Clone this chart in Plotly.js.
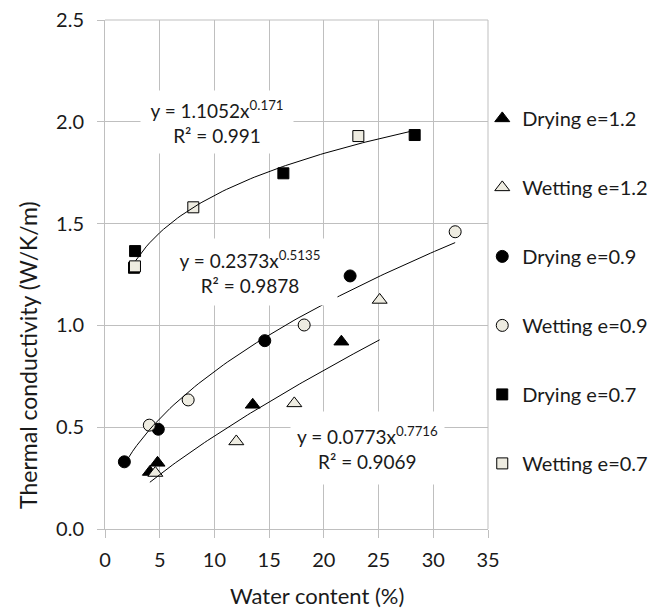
<!DOCTYPE html>
<html>
<head>
<meta charset="utf-8">
<script src="https://cdn.plot.ly/plotly-3.0.1.min.js"></script>
<style>html,body{margin:0;padding:0;background:#fff;}#chart{width:670px;height:610px;}</style>
</head>
<body>
<div id="chart"></div>
<script>
// ---- data ----
const seriesNames = ["Drying e=1.2", "Wetting e=1.2", "Drying e=0.9", "Wetting e=0.9", "Drying e=0.7", "Wetting e=0.7"];

const dry12X = [4.1, 4.8, 13.5, 21.6];
const dry12Y = [0.28, 0.325, 0.61, 0.92];
const wet12X = [4.6, 12.0, 17.3, 25.1];
const wet12Y = [0.275, 0.43, 0.617, 1.125];

const dry09X = [1.77, 4.87, 14.6, 22.4];
const dry09Y = [0.33, 0.49, 0.925, 1.243];
const wet09X = [4.05, 7.6, 18.2, 32.0];
const wet09Y = [0.51, 0.634, 1.002, 1.46];

const dry07X = [2.65, 2.75, 16.3, 28.3];
const dry07Y = [1.283, 1.365, 1.747, 1.935];
const wet07X = [2.74, 8.07, 23.15];
const wet07Y = [1.29, 1.58, 1.93];

// power-law trendlines shown on the chart: y = a * x^b, drawn over [xMin, xMax]
const fitA = ["0.0773", "0.2373", "1.1052"];
const fitB = ["0.7716", "0.5135", "0.171"];
const fitR2 = ["0.9069", "0.9878", "0.991"];
const fitXmin = [4.1, 1.77, 2.8];
const fitXmax = [25.1, 32.0, 28.3];

const xTicks = [0, 5, 10, 15, 20, 25, 30, 35];
const yTicks = [0.0, 0.5, 1.0, 1.5, 2.0, 2.5];

const xTitle = "Water content (%)";
const yTitle = "Thermal conductivity (W/K/m)";

// ---- styling ----
const FONT = "Lato, 'Open Sans', sans-serif";
const TXT = "#1a1a1a";
const LIGHT = "#eeece1";
const GRID = "#bfbfbf";

function markerTrace(name, x, y, symbol, fill, size, group) {
  return {
    type: "scatter", mode: "markers", name: name, x: x, y: y,
    legendgroup: group,
    marker: {symbol: symbol, color: fill, size: size, line: {color: "#000", width: 1}},
    cliponaxis: false
  };
}

const traces = [
  markerTrace(seriesNames[0], dry12X, dry12Y, "triangle-up", "#000", 13, "g1"),
  markerTrace(seriesNames[1], wet12X, wet12Y, "triangle-up", LIGHT, 13, "g2"),
  markerTrace(seriesNames[2], dry09X, dry09Y, "circle", "#000", 12, "g3"),
  markerTrace(seriesNames[3], wet09X, wet09Y, "circle", LIGHT, 12, "g4"),
  markerTrace(seriesNames[4], dry07X, dry07Y, "square", "#000", 11, "g5"),
  markerTrace(seriesNames[5], wet07X, wet07Y, "square", LIGHT, 11, "g6")
];

// trendlines from the displayed equations
for (let i = 0; i < fitA.length; i++) {
  const a = parseFloat(fitA[i]), b = parseFloat(fitB[i]);
  const xs = [], ys = [];
  const n = 80;
  for (let k = 0; k <= n; k++) {
    const xv = fitXmin[i] + (fitXmax[i] - fitXmin[i]) * k / n;
    xs.push(xv);
    ys.push(a * Math.pow(xv, b));
  }
  traces.push({type: "scatter", mode: "lines", x: xs, y: ys, showlegend: false,
    hoverinfo: "skip", line: {color: "#000", width: 1}});
}

// equation labels (positions in data units)
const labelX = [24.0, 13.25, 10.25];
const labelY = [0.40, 1.262, 2.0];
const labelW = [151, 172, 150];
const labelH = [70, 64, 60];

const annotations = fitA.map((a, i) => ({
  x: labelX[i], y: labelY[i], xref: "x", yref: "y",
  text: "y = " + a + "x<sup>" + fitB[i] + "</sup><br>R² = " + fitR2[i],
  showarrow: false, bgcolor: "#fff", width: labelW[i], height: labelH[i],
  font: {family: FONT, size: 19, color: TXT}, align: "center", valign: "middle"
}));

// axis titles placed where the reference has them
annotations.push({
  xref: "paper", yref: "paper", x: 0.5535, y: -0.1297, xanchor: "center", yanchor: "middle",
  text: xTitle, showarrow: false, font: {family: FONT, size: 22, color: TXT}
});
annotations.push({
  xref: "paper", yref: "paper", x: -0.201, y: 0.342, xanchor: "center", yanchor: "middle",
  text: yTitle, textangle: -90, showarrow: false, font: {family: FONT, size: 23, color: TXT}
});

const layout = {
  width: 670, height: 610,
  margin: {l: 105, r: 182, t: 20, b: 81},
  paper_bgcolor: "#fff", plot_bgcolor: "#fff",
  font: {family: FONT, size: 20, color: TXT},
  showlegend: true,
  legend: {x: 0.985, xanchor: "left", y: 0.845, yanchor: "top",
    traceorder: "grouped", tracegroupgap: 40, bgcolor: "rgba(0,0,0,0)",
    font: {family: FONT, size: 20, color: TXT}},
  xaxis: {
    range: [0, 35], tickvals: xTicks, ticktext: xTicks.map(String),
    showgrid: true, gridcolor: GRID, gridwidth: 1, zeroline: false,
    showline: true, linecolor: GRID, linewidth: 1,
    ticks: "outside", ticklen: 8, tickcolor: GRID, ticklabelstandoff: 5,
    tickfont: {family: FONT, size: 20, color: TXT},
    fixedrange: true
  },
  yaxis: {
    range: [0, 2.5], tickvals: yTicks, ticktext: yTicks.map(v => v.toFixed(1)),
    showgrid: true, gridcolor: GRID, gridwidth: 1, zeroline: false,
    showline: true, linecolor: GRID, linewidth: 1,
    ticks: "outside", ticklen: 7, tickcolor: GRID, ticklabelstandoff: 9,
    tickfont: {family: FONT, size: 20, color: TXT},
    fixedrange: true
  },
  annotations: annotations,
  shapes: [
    {type: "line", xref: "paper", yref: "paper", x0: 0, x1: 1, y0: 1, y1: 1, line: {color: GRID, width: 1}, layer: "below"},
    {type: "line", xref: "paper", yref: "paper", x0: 1, x1: 1, y0: 0, y1: 1, line: {color: GRID, width: 1}, layer: "below"}
  ]
};

Plotly.newPlot("chart", traces, layout, {staticPlot: true, displayModeBar: false});
</script>
</body>
</html>
